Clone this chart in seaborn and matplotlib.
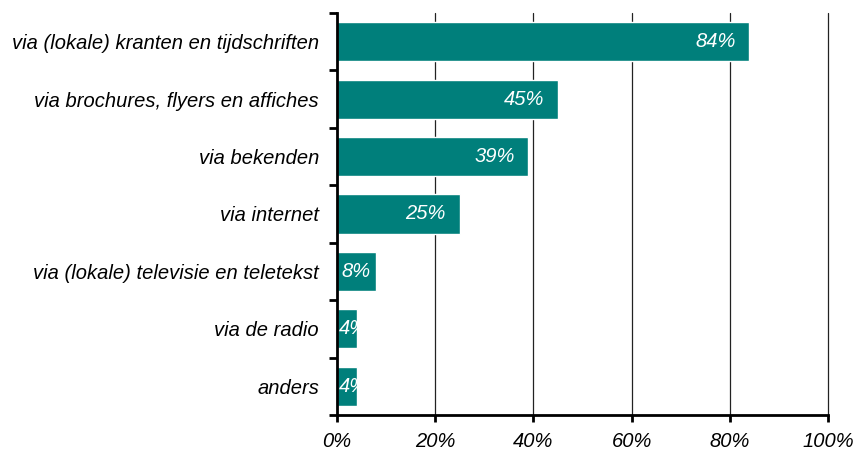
import numpy as np
import pandas as pd
import matplotlib
matplotlib.use('Agg')
import matplotlib.pyplot as plt
import seaborn as sns

# Data
categories = ['via (lokale) kranten en tijdschriften',
              'via brochures, flyers en affiches',
              'via bekenden',
              'via internet',
              'via (lokale) televisie en teletekst',
              'via de radio',
              'anders']
values = [84, 45, 39, 25, 8, 4, 4]
bar_labels = ['84%', '45%', '39%', '25%', '8%', '4%', '4%']
x_ticks = [0, 20, 40, 60, 80, 100]
x_tick_labels = ['0%', '20%', '40%', '60%', '80%', '100%']

df = pd.DataFrame({'category': categories, 'value': values})

sns.set_style('white')
plt.rcParams['font.family'] = ['Liberation Sans', 'DejaVu Sans']
plt.rcParams['text.color'] = 'black'
plt.rcParams['xtick.color'] = 'black'
plt.rcParams['ytick.color'] = 'black'

fs = 14.5

fig = plt.figure(figsize=(8.54, 4.54), dpi=100)
ax = fig.add_axes([0.3946, 0.0859, 0.575, 0.8855])

# vertical gridlines behind the bars
for xt in x_ticks[1:]:
    ax.axvline(xt, color='#222222', lw=0.9, zorder=0, clip_on=False)

sns.barplot(data=df, x='value', y='category', orient='h', color='#007F7B',
            saturation=1, width=0.68, ax=ax, zorder=2)

# percent labels inside the bar ends
for i, (v, lab) in enumerate(zip(values, bar_labels)):
    if v >= 20:
        ax.annotate(lab, (v, i), xytext=(-10, 0), textcoords='offset points',
                    ha='right', va='center', color='white', fontsize=fs,
                    style='italic', zorder=3)
    elif v >= 6:
        ax.annotate(lab, (v, i), xytext=(-4, 0), textcoords='offset points',
                    ha='right', va='center', color='white', fontsize=fs,
                    style='italic', zorder=3)
    else:
        ax.annotate(lab, (0, i), xytext=(1, 0), textcoords='offset points',
                    ha='left', va='center', color='white', fontsize=fs,
                    style='italic', zorder=3)

ax.set_xlim(0, 100)
ax.set_ylim(len(categories) - 0.5, -0.5)
ax.set_xticks(x_ticks)
ax.set_xticklabels(x_tick_labels, fontsize=fs, style='italic')
ax.set_yticks(range(len(categories)))
ax.set_yticklabels(categories, fontsize=fs, style='italic')
ax.set_yticks(np.arange(-0.5, len(categories)), minor=True)
ax.tick_params(axis='y', which='both', left=True)
ax.tick_params(axis='y', which='major', length=0, pad=13)
ax.tick_params(axis='y', which='minor', length=6, width=2, direction='out', color='black')
ax.tick_params(axis='x', which='major', bottom=True, length=5, width=2,
               direction='out', color='black', pad=7)
ax.set_xlabel('')
ax.set_ylabel('')

for s in ['top', 'right']:
    ax.spines[s].set_visible(False)
for s in ['left', 'bottom']:
    ax.spines[s].set_linewidth(2)
    ax.spines[s].set_color('black')

fig.savefig('out.png', dpi=100)
